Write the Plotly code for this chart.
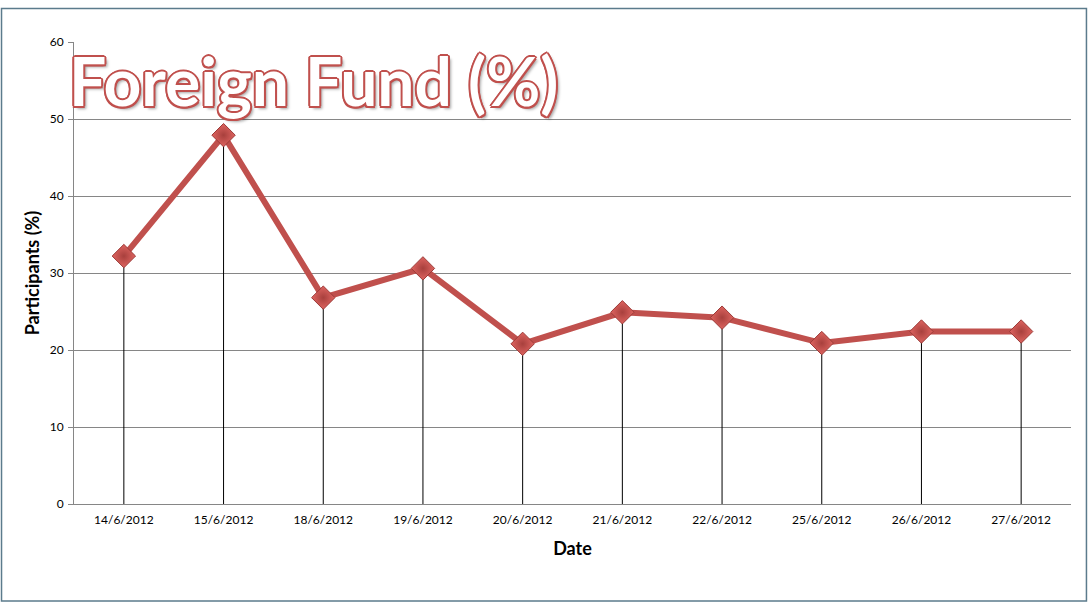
import plotly.graph_objects as go

dates = ["14/6/2012", "15/6/2012", "18/6/2012", "19/6/2012", "20/6/2012",
         "21/6/2012", "22/6/2012", "25/6/2012", "26/6/2012", "27/6/2012"]
participants = [32.2, 47.9, 26.8, 30.6, 20.8, 24.9, 24.2, 20.9, 22.4, 22.4]
y_ticks = [0, 10, 20, 30, 40, 50, 60]

RED = "#c0504d"

fig = go.Figure()

# drop lines from each point to the axis
fig.add_trace(go.Scatter(
    x=dates, y=participants, mode="markers",
    marker=dict(size=1, color="rgba(0,0,0,0)"),
    error_y=dict(type="data", symmetric=False, array=[0] * len(participants),
                 arrayminus=participants, color="black", thickness=1, width=0),
    hoverinfo="skip", showlegend=False,
))

fig.add_trace(go.Scatter(
    x=dates, y=participants, mode="lines+markers",
    line=dict(color=RED, width=6),
    marker=dict(symbol="diamond", size=18, color="#de6460",
                gradient=dict(type="radial", color="#a8403d"),
                line=dict(color="#9c3a37", width=1)),
    showlegend=False,
))

outline = ", ".join([
    f"{dx}px {dy}px 0 {RED}" for dx, dy in
    [(2, 0), (-2, 0), (0, 2), (0, -2), (1.5, 1.5), (-1.5, -1.5), (1.5, -1.5), (-1.5, 1.5)]
] + ["3px 3px 3px rgba(0,0,0,0.35)"])

fig.add_annotation(
    text="Foreign Fund (%)", xref="paper", yref="paper",
    x=-0.007, y=1.007, xanchor="left", yanchor="top", showarrow=False,
    font=dict(family="Lato", size=66, color="white", weight="bold", shadow=outline),
)

fig.update_layout(
    width=1089, height=603,
    margin=dict(l=74, r=18, t=42, b=99),
    paper_bgcolor="white", plot_bgcolor="white",
    font=dict(family="Lato", size=12, color="black"),
    xaxis=dict(
        type="category", range=[-0.5, 9.5],
        showgrid=False, showline=True, linecolor="#868686", linewidth=1,
        ticks="", tickfont=dict(size=12), ticklabelstandoff=5,
        title=dict(text="Date", font=dict(size=18, weight="bold"), standoff=15),
    ),
    yaxis=dict(
        range=[0, 60], tickvals=y_ticks, showgrid=True, gridcolor="#868686", gridwidth=1,
        showline=True, linecolor="#868686", linewidth=1, zeroline=False,
        ticks="outside", ticklen=5, tickcolor="#868686", tickfont=dict(size=12),
        ticklabelstandoff=2,
        title=dict(text="Participants (%)", font=dict(size=18, weight="bold"), standoff=5),
    ),
    shapes=[dict(type="rect", xref="paper", yref="paper", x0=-0.0727, x1=1.0155,
                 y0=-0.21, y1=1.0725, line=dict(color="#5b7b8c", width=1.5))],
)

fig.write_html("out.html", config={"displayModeBar": False},
               post_script="document.body.style.margin='0';")
